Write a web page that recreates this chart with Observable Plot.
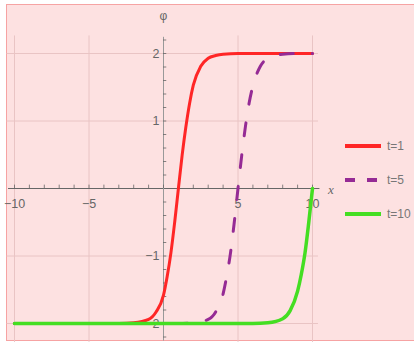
<!DOCTYPE html>
<html>
<head>
<meta charset="utf-8">
<script src="https://cdn.jsdelivr.net/npm/d3@7"></script>
<script src="https://cdn.jsdelivr.net/npm/@observablehq/plot@0.6"></script>
<style>
  html, body { margin: 0; padding: 0; background: #fff; }
  #wrap { position: relative; width: 414px; height: 347px; overflow: hidden; font-family: "Liberation Sans", Arial, sans-serif; }
  #panel { position: absolute; left: 6px; top: 4px; width: 420px; height: 337px; background: #fde1e1; border: 1.5px solid #f6a3a3; box-sizing: border-box; }
  #chart { position: absolute; left: 0; top: 0; }
  #legend { position: absolute; left: 345px; top: 129px; }
  .item { display: flex; align-items: center; height: 34px; font-size: 12px; color: #777; }
  .item svg { margin-right: 6px; }
</style>
</head>
<body>
<div id="wrap">
  <div id="panel"></div>
  <div id="chart"></div>
  <div id="legend"></div>
</div>
<script>
// Series (x, phi)
const seriesNames = ["t=1", "t=5", "t=10"];
const seriesColors = ["#ff2626", "#952b95", "#44de22"];

const x1 = [-10, -3, -2, -1, -0.5, 0, 0.25, 0.5, 0.75, 1, 1.25, 1.5, 1.75, 2, 2.5, 3, 3.5, 4, 5, 10];
const y1 = [-2, -2, -1.99, -1.94, -1.83, -1.58, -1.3, -0.95, -0.5, 0, 0.49, 0.91, 1.26, 1.53, 1.81, 1.93, 1.97, 1.99, 2, 2];

const x5 = [-10, 1, 2, 3, 3.5, 4, 4.25, 4.5, 4.75, 5, 5.25, 5.5, 5.75, 6, 6.5, 7, 7.5, 8, 9, 10];
const y5 = [-2, -2, -1.99, -1.94, -1.83, -1.56, -1.29, -0.95, -0.5, 0, 0.49, 0.92, 1.27, 1.52, 1.81, 1.93, 1.97, 1.99, 2, 2];

const x10 = [-10, 6, 7, 8, 8.5, 9, 9.25, 9.5, 9.75, 10];
const y10 = [-2, -2, -1.99, -1.93, -1.81, -1.52, -1.27, -0.95, -0.5, 0];

const xTickLabels = [-10, -5, 5, 10];
const yTickLabels = [-2, -1, 1, 2];
const xMinorTicks = d3.range(-10, 10.01, 1);
const yMinorTicks = d3.range(-2.2, 2.21, 0.2).map(v => Math.round(v * 10) / 10).filter(v => v !== 0);

const toRows = (xs, ys, name) => xs.map((x, i) => ({x, y: ys[i], series: name}));
const s1 = toRows(x1, y1, seriesNames[0]);
const s5 = toRows(x5, y5, seriesNames[1]);
const s10 = toRows(x10, y10, seriesNames[2]);

const gridColor = "#e9c4c4";
const axisColor = "#666";
const labelColor = "#666";

const chart = Plot.plot({
  width: 414,
  height: 347,
  style: {background: "transparent", fontFamily: "Liberation Sans, Arial, sans-serif"},
  x: {domain: [-10, 10], range: [14, 312], axis: null},
  y: {domain: [-2, 2], range: [323, 53], axis: null},
  marks: [
    // grid
    Plot.ruleX(xTickLabels, {x: d => d, y1: -2.28, y2: 2.26, stroke: gridColor, strokeWidth: 1}),
    Plot.ruleY(yTickLabels, {y: d => d, x1: -10.5, x2: 10.4, stroke: gridColor, strokeWidth: 1}),
    // axes
    Plot.ruleY([0], {x1: -10.4, x2: 10.5, stroke: axisColor, strokeWidth: 1}),
    Plot.ruleX([0], {y1: -2.26, y2: 2.24, stroke: "#999", strokeWidth: 1}),
    // ticks
    Plot.ruleX(xMinorTicks, {x: d => d, y1: 0, y2: 0.05, stroke: axisColor, strokeWidth: 0.8}),
    Plot.ruleY(yMinorTicks, {y: d => d, x1: 0, x2: 0.22, stroke: axisColor, strokeWidth: 0.8}),
    // tick labels
    Plot.text(xTickLabels, {x: d => d, y: 0, dy: 15, text: d => d < 0 ? "\u2212" + Math.abs(d) : String(d), fill: labelColor, fontSize: 12.5}),
    Plot.text(yTickLabels, {x: 0, y: d => d, dx: -4, textAnchor: "end", text: d => d < 0 ? "\u2212" + Math.abs(d) : String(d), fill: labelColor, fontSize: 12.5}),
    // axis labels
    Plot.text(["\u03c6"], {x: 0, y: 2.24, dy: -21, text: d => d, fill: labelColor, fontSize: 12}),
    Plot.text(["x"], {x: 10.5, y: 0, dx: 8, dy: 1, textAnchor: "start", text: d => d, fill: labelColor, fontSize: 13, fontStyle: "italic", fontFamily: "Liberation Serif, serif"}),
    // curves
    Plot.line(s1, {x: "x", y: "y", stroke: seriesColors[0], strokeWidth: 3, curve: "monotone-x"}),
    Plot.line(s5, {x: "x", y: "y", stroke: seriesColors[1], strokeWidth: 3, strokeDasharray: "13,19", curve: "monotone-x"}),
    Plot.line(s10, {x: "x", y: "y", stroke: seriesColors[2], strokeWidth: 3.5, curve: "monotone-x"})
  ]
});
document.getElementById("chart").appendChild(chart);

// legend
const legend = document.getElementById("legend");
seriesNames.forEach((name, i) => {
  const item = document.createElement("div");
  item.className = "item";
  const dash = i === 1 ? ' stroke-dasharray="10,12"' : "";
  item.innerHTML = `<svg width="36" height="6"><line x1="0" y1="3" x2="36" y2="3" stroke="${seriesColors[i]}" stroke-width="4"${dash}/></svg><span>${name}</span>`;
  legend.appendChild(item);
});
</script>
</body>
</html>
